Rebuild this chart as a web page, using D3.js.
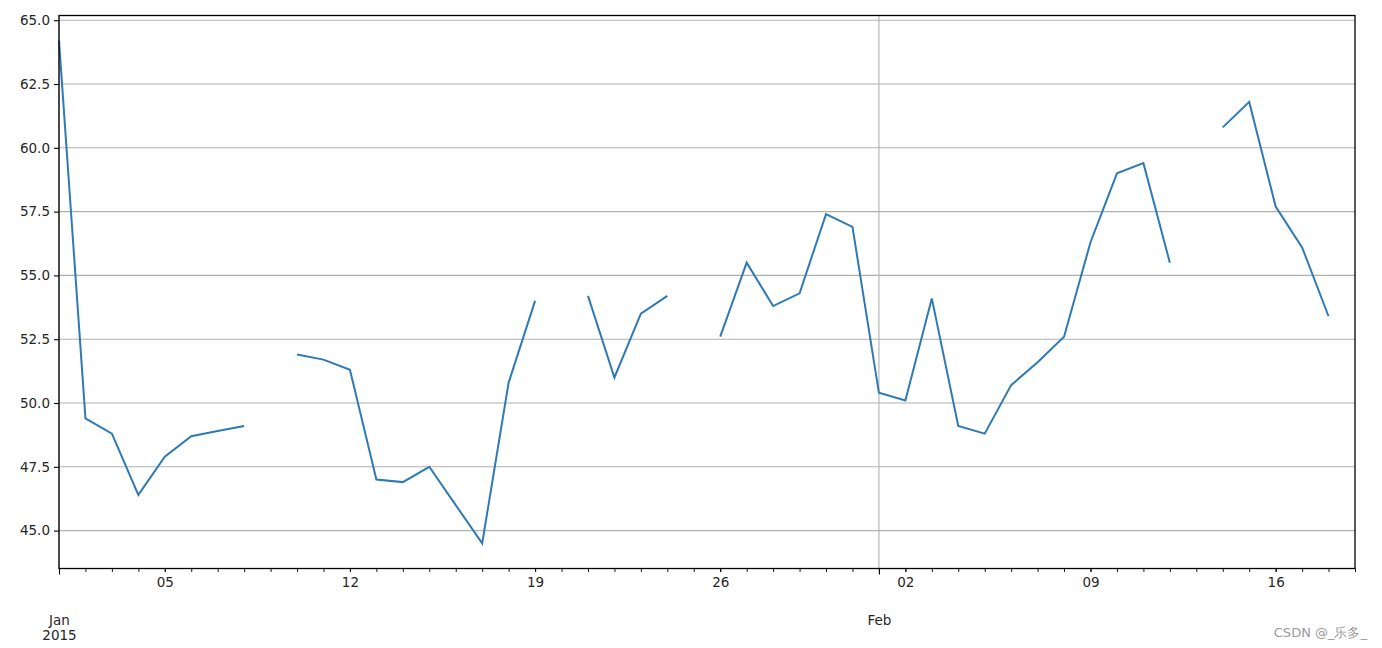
<!DOCTYPE html>
<html>
<head>
<meta charset="utf-8">
<script src="https://cdn.jsdelivr.net/npm/d3@7/dist/d3.min.js"></script>
<style>
  html, body { margin: 0; padding: 0; background: #fff; }
  svg { display: block; }
  text { font-family: "DejaVu Sans", sans-serif; }
</style>
</head>
<body>
<svg id="chart" width="1382" height="648"></svg>
<script>
// ---- data ----
const dates = [
  "2015-01-01","2015-01-02","2015-01-03","2015-01-04","2015-01-05","2015-01-06","2015-01-07",
  "2015-01-08","2015-01-09","2015-01-10","2015-01-11","2015-01-12","2015-01-13","2015-01-14",
  "2015-01-15","2015-01-16","2015-01-17","2015-01-18","2015-01-19","2015-01-20","2015-01-21",
  "2015-01-22","2015-01-23","2015-01-24","2015-01-25","2015-01-26","2015-01-27","2015-01-28",
  "2015-01-29","2015-01-30","2015-01-31","2015-02-01","2015-02-02","2015-02-03","2015-02-04",
  "2015-02-05","2015-02-06","2015-02-07","2015-02-08","2015-02-09","2015-02-10","2015-02-11",
  "2015-02-12","2015-02-13","2015-02-14","2015-02-15","2015-02-16","2015-02-17","2015-02-18",
  "2015-02-19"
];
const values = [
  64.2, 49.4, 48.8, 46.4, 47.9, 48.7, 48.9,
  49.1, null, 51.9, 51.7, 51.3, 47.0, 46.9,
  47.5, 46.0, 44.5, 50.8, 54.0, null, 54.2,
  51.0, 53.5, 54.2, null, 52.6, 55.5, 53.8,
  54.3, 57.4, 56.9, 50.4, 50.1, 54.1, 49.1,
  48.8, 50.7, 51.6, 52.6, 56.3, 59.0, 59.4,
  55.5, null, 60.8, 61.8, 57.7, 56.1, 53.4,
  null
];
const yTicks = [45.0, 47.5, 50.0, 52.5, 55.0, 57.5, 60.0, 62.5, 65.0];
const minorLabelDates = ["2015-01-05","2015-01-12","2015-01-19","2015-01-26","2015-02-02","2015-02-09","2015-02-16"];
const majorDates = ["2015-01-01","2015-02-01"];
const majorLabels = [["Jan","2015"],["Feb"]];
const watermark = "CSDN @_乐多_";

// ---- layout ----
const svg = d3.select("#chart");
const L = 59, R = 1355, T = 15.5, B = 568.5;
const parse = d3.utcParse("%Y-%m-%d");
const data = dates.map((d, i) => ({ date: parse(d), value: values[i] }));

const x = d3.scaleUtc().domain(d3.extent(data, d => d.date)).range([L, R]);
const vals = values.filter(v => v !== null);
const vmin = d3.min(vals), vmax = d3.max(vals), pad = (vmax - vmin) * 0.05;
const y = d3.scaleLinear().domain([vmin - pad, vmax + pad]).range([B, T]);

const textColor = "#262626";

// grid
const grid = svg.append("g");
grid.selectAll("line.h").data(yTicks).join("line")
  .attr("x1", L).attr("x2", R)
  .attr("y1", d => y(d)).attr("y2", d => y(d))
  .attr("stroke", "#b0b0b0").attr("stroke-width", 1.1);
grid.selectAll("line.v").data(majorDates.map(parse)).join("line")
  .attr("x1", d => x(d)).attr("x2", d => x(d))
  .attr("y1", T).attr("y2", B)
  .attr("stroke", "#b0b0b0").attr("stroke-width", 1.1);

// line
const line = d3.line()
  .defined(d => d.value !== null)
  .x(d => x(d.date)).y(d => y(d.value));
svg.append("path").datum(data)
  .attr("d", line)
  .attr("fill", "none")
  .attr("stroke", "#2f7ab5")
  .attr("stroke-width", 2)
  .attr("stroke-linejoin", "miter");

// y axis
const yAxis = d3.axisLeft(y).tickValues(yTicks).tickFormat(d3.format(".1f"))
  .tickSize(5).tickPadding(4);
const gy = svg.append("g").attr("transform", `translate(${L},0)`).call(yAxis);
gy.select(".domain").remove();
gy.selectAll(".tick line").attr("stroke", "#000").attr("stroke-width", 1.1);
gy.selectAll(".tick text").attr("font-size", 13.5).attr("fill", textColor)
  .attr("font-family", "DejaVu Sans, sans-serif");

// x axis: minor daily ticks
const gxMinor = svg.append("g").attr("transform", `translate(0,${B})`)
  .call(d3.axisBottom(x).tickValues(data.map(d => d.date)).tickSize(3.5).tickFormat(""));
gxMinor.select(".domain").remove();
gxMinor.selectAll(".tick line").attr("stroke", "#000").attr("stroke-width", 0.9);

// x axis: minor labels (weekly)
const gxLab = svg.append("g").attr("transform", `translate(0,${B})`)
  .call(d3.axisBottom(x).tickValues(minorLabelDates.map(parse)).tickSize(3.5).tickPadding(5)
    .tickFormat(d3.utcFormat("%d")));
gxLab.select(".domain").remove();
gxLab.selectAll(".tick line").attr("stroke", "#000").attr("stroke-width", 0.9);
gxLab.selectAll(".tick text").attr("font-size", 13.5).attr("fill", textColor)
  .attr("font-family", "DejaVu Sans, sans-serif");

// x axis: major ticks
const gxMaj = svg.append("g").attr("transform", `translate(0,${B})`)
  .call(d3.axisBottom(x).tickValues(majorDates.map(parse)).tickSize(6).tickFormat(""));
gxMaj.select(".domain").remove();
gxMaj.selectAll(".tick line").attr("stroke", "#000").attr("stroke-width", 1.1);
gxMaj.selectAll(".tick").each(function(d, i) {
  const t = d3.select(this).append("text")
    .attr("text-anchor", "middle")
    .attr("font-size", 13.5).attr("fill", textColor)
    .attr("font-family", "DejaVu Sans, sans-serif");
  majorLabels[i].forEach((s, k) => {
    t.append("tspan").attr("x", 0).attr("y", 56 + k * 15).text(s);
  });
});

// frame
svg.append("rect").attr("x", L).attr("y", T).attr("width", R - L).attr("height", B - T)
  .attr("fill", "none").attr("stroke", "#000").attr("stroke-width", 1.3);

// watermark
svg.append("text").attr("x", 1367).attr("y", 637).attr("text-anchor", "end")
  .attr("font-size", 13).attr("fill", "#9a9a9a")
  .attr("font-family", "Noto Sans CJK SC, sans-serif")
  .text(watermark);
</script>
</body>
</html>
